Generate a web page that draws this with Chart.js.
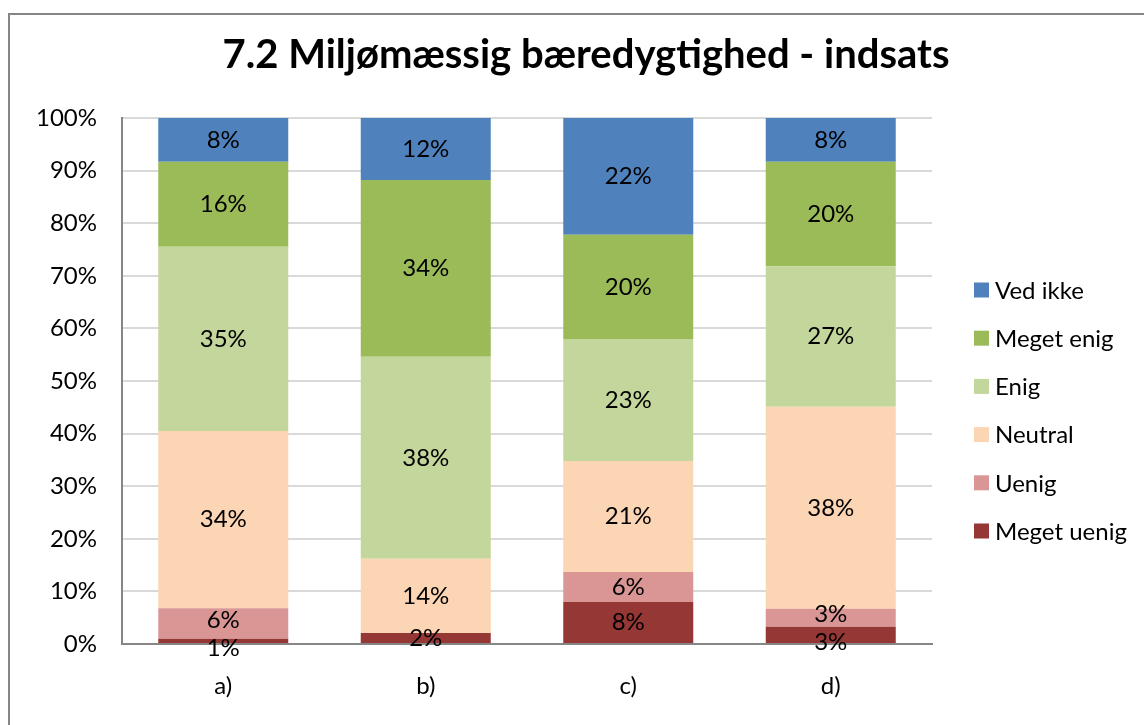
<!DOCTYPE html>
<html>
<head>
<meta charset="utf-8">
<title>7.2 Miljømæssig bæredygtighed - indsats</title>
<script src="https://cdn.jsdelivr.net/npm/chart.js@4.4.1/dist/chart.umd.min.js"></script>
<style>
  html, body { margin: 0; padding: 0; background: #fff; overflow: hidden; }
  #frame { position: absolute; left: 8px; top: 13px; width: 1200px; height: 800px; border: 2px solid #868686; box-sizing: border-box; }
  #wrap { position: absolute; left: 0; top: 0; width: 1144px; height: 725px; }
</style>
</head>
<body>
<div id="frame"></div>
<div id="wrap"><canvas id="chart" width="1144" height="725"></canvas></div>
<script>
// 7.2 Miljømæssig bæredygtighed - indsats (100% stacked bars)

const categories = ['a)', 'b)', 'c)', 'd)'];
const seriesNames = ['Meget uenig', 'Uenig', 'Neutral', 'Enig', 'Meget enig', 'Ved ikke'];

// percent per category
const megetUenig = [1.0, 2.1, 8.0, 3.3];
const uenig      = [5.8, 0,   5.7, 3.4];
const neutral    = [33.7, 14.1, 21.1, 38.4];
const enig       = [35.0, 38.4, 23.2, 26.7];
const megetEnig  = [16.2, 33.6, 19.8, 19.9];
const vedIkke    = [8.3, 11.8, 22.2, 8.3];

const yTicks = [0, 10, 20, 30, 40, 50, 60, 70, 80, 90, 100];

const colors = ['#953735', '#D99694', '#FCD5B5', '#C3D69B', '#9BBB59', '#4F81BD'];
const font = 'Lato';

const seriesValues = [megetUenig, uenig, neutral, enig, megetEnig, vedIkke];

// percent labels in the middle of each segment
const segmentLabels = {
  id: 'segmentLabels',
  afterDatasetsDraw(chart) {
    const ctx = chart.ctx;
    ctx.save();
    ctx.font = '24px ' + font;
    ctx.fillStyle = '#000';
    ctx.textAlign = 'center';
    ctx.textBaseline = 'middle';
    categories.forEach((cat, i) => {
      const labels = [];
      chart.data.datasets.forEach((ds, d) => {
        const v = ds.data[i];
        if (!v) return;
        const el = chart.getDatasetMeta(d).data[i];
        labels.push({ x: el.x, y: (el.y + el.base) / 2, text: Math.round(v) + '%' });
      });
      // push apart labels that would overlap
      const minGap = 28;
      for (let k = 1; k < labels.length; k++) {
        const lo = labels[k - 1], hi = labels[k];
        if (lo.y - hi.y < minGap) {
          const mid = (lo.y + hi.y) / 2 + 2;
          lo.y = mid + minGap / 2;
          hi.y = mid - minGap / 2;
        }
      }
      labels.forEach(l => ctx.fillText(l.text, l.x, l.y));
    });
    ctx.restore();
  }
};

// legend on the right, top entry = last series
const sideLegend = {
  id: 'sideLegend',
  afterDraw(chart) {
    const ctx = chart.ctx;
    ctx.save();
    ctx.font = '24px ' + font;
    ctx.textBaseline = 'middle';
    ctx.textAlign = 'left';
    const items = chart.data.datasets.slice().reverse();
    items.forEach((ds, k) => {
      const y = 290 + k * 48.2;
      ctx.fillStyle = ds.backgroundColor;
      ctx.fillRect(974, y - 7.5, 15, 15);
      ctx.fillStyle = '#000';
      ctx.fillText(ds.label, 995, y + 1);
    });
    ctx.restore();
  }
};

const datasets = seriesNames.map((name, d) => ({
  label: name,
  data: seriesValues[d],
  backgroundColor: colors[d],
  borderWidth: 0,
  categoryPercentage: 1,
  barPercentage: 0.642
}));

new Chart(document.getElementById('chart'), {
  type: 'bar',
  data: { labels: categories, datasets: datasets },
  options: {
    responsive: false,
    animation: false,
    layout: { padding: { left: 28, right: 0, top: 14, bottom: 0 } },
    plugins: {
      legend: { display: false },
      tooltip: { enabled: false },
      title: {
        display: true,
        text: '7.2 Miljømæssig bæredygtighed - indsats',
        color: '#000',
        font: { family: font, size: 40, weight: 'bold' },
        padding: { top: 17, bottom: 39 }
      }
    },
    scales: {
      x: {
        stacked: true,
        grid: { display: false, drawTicks: false },
        border: { color: '#868686', width: 2 },
        ticks: { color: '#000', font: { family: font, size: 24 }, padding: 28 },
        afterFit(s) { s.height = 81; }
      },
      y: {
        stacked: true,
        min: 0,
        max: 100,
        afterBuildTicks(s) { s.ticks = yTicks.map(v => ({ value: v })); },
        grid: { color: '#d9d9d9', lineWidth: 2, drawTicks: false },
        border: { color: '#868686', width: 2 },
        ticks: { color: '#000', font: { family: font, size: 24 }, padding: 25, callback: v => v + '%' },
        afterFit(s) { s.width = 94; }
      },
      // empty room on the right for the legend
      y2: {
        position: 'right',
        grid: { display: false, drawTicks: false },
        border: { display: false },
        ticks: { display: false },
        afterFit(s) { s.width = 212; }
      }
    }
  },
  plugins: [segmentLabels, sideLegend]
});
</script>
</body>
</html>
